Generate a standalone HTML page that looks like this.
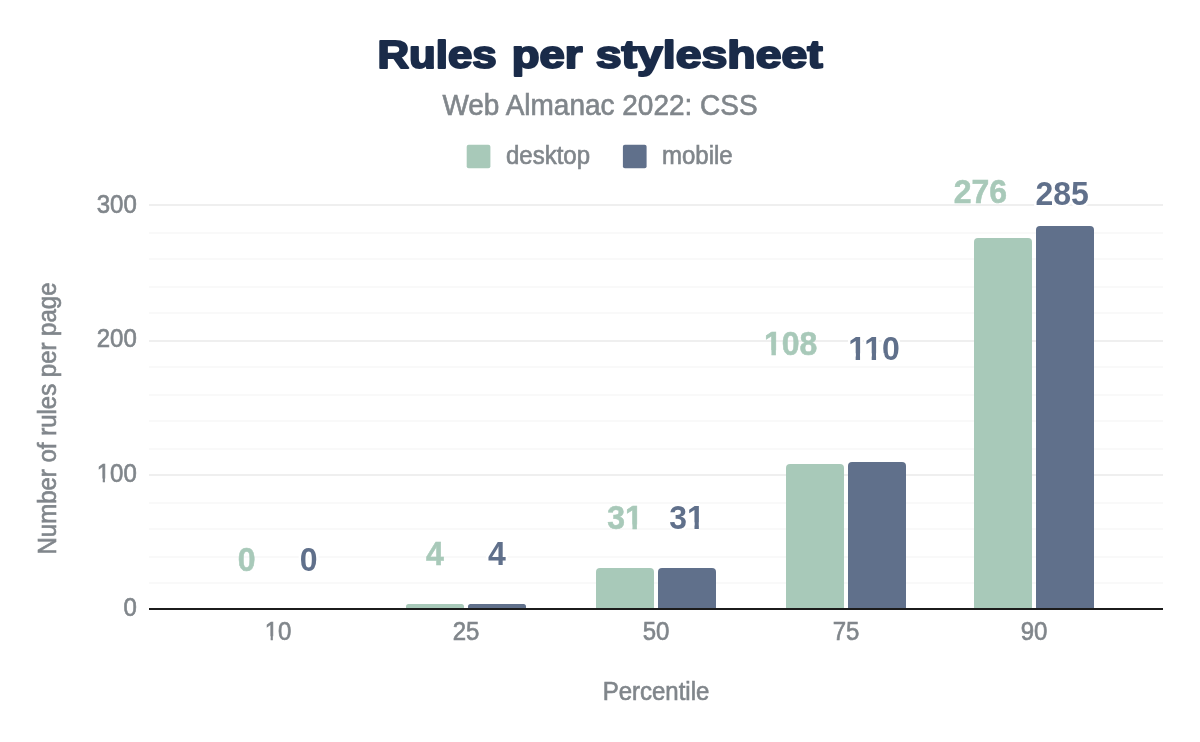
<!DOCTYPE html>
<html lang="en">
<head>
<meta charset="utf-8">
<title>Rules per stylesheet</title>
<style>
html,body{margin:0;padding:0;background:#fff;}
body{width:1200px;height:742px;overflow:hidden;}
svg{display:block;font-family:"Liberation Sans", Arial, sans-serif;}
.t{fill:#80868b;font-size:24px;stroke:#80868b;stroke-width:0.6px;}
.s{fill:#80868b;font-size:28px;stroke:#80868b;stroke-width:0.6px;}
.lab{font-size:32px;font-weight:bold;}
.g{stroke:#a8c9b9;stroke-width:0.5px;}
.halo{stroke:#fff;stroke-width:5px;paint-order:stroke fill;stroke-linejoin:round;}
.title{font-size:38px;font-weight:bold;fill:#1a2b49;stroke:#1a2b49;stroke-width:2px;stroke-linejoin:round;}
</style>
</head>
<body>
<svg width="1200" height="742" viewBox="0 0 1200 742">
<rect width="1200" height="742" fill="#ffffff"/>
<defs>
<clipPath id="c0"><path clip-rule="evenodd" d="M-60.0 -28.8H20.0V12.0H-60.0zM-39.71 -3.49H-34.01V2H-39.71zM-31.89 -3.49H-26.37V2H-31.89z"/></clipPath>
<clipPath id="c1"><path clip-rule="evenodd" d="M-33.3 -28.8H33.3V12.0H-33.3zM-13.02 -3.49H-7.31V2H-13.02zM-5.19 -3.49H0.33V2H-5.19z"/></clipPath>
<clipPath id="c2"><path clip-rule="evenodd" d="M-37.8 -38.4H37.8V16.0H-37.8zM0.52 -4.27H7.47V2H0.52zM11.86 -4.27H18.41V2H11.86z"/></clipPath>
<clipPath id="c3"><path clip-rule="evenodd" d="M-37.8 -38.4H37.8V16.0H-37.8zM-1.18 -6.47H7.47V4H-1.18zM11.86 -6.47H20.11V4H11.86z"/></clipPath>
<clipPath id="c4"><path clip-rule="evenodd" d="M-46.7 -38.4H46.7V16.0H-46.7zM-26.18 -4.27H-19.23V2H-26.18zM-14.84 -4.27H-8.29V2H-14.84z"/></clipPath>
<clipPath id="c5"><path clip-rule="evenodd" d="M-45.8 -38.4H45.8V16.0H-45.8zM-26.99 -6.47H-18.34V4H-26.99zM-13.95 -6.47H-2.32V4H-13.95zM2.07 -6.47H10.32V4H2.07z"/></clipPath>
</defs>
<rect x="149" y="232" width="1014" height="2" fill="#f9f9f9"/>
<rect x="149" y="258" width="1014" height="2" fill="#f9f9f9"/>
<rect x="149" y="286" width="1014" height="2" fill="#f9f9f9"/>
<rect x="149" y="312" width="1014" height="2" fill="#f9f9f9"/>
<rect x="149" y="366" width="1014" height="2" fill="#f9f9f9"/>
<rect x="149" y="394" width="1014" height="2" fill="#f9f9f9"/>
<rect x="149" y="420" width="1014" height="2" fill="#f9f9f9"/>
<rect x="149" y="448" width="1014" height="2" fill="#f9f9f9"/>
<rect x="149" y="502" width="1014" height="2" fill="#f9f9f9"/>
<rect x="149" y="528" width="1014" height="2" fill="#f9f9f9"/>
<rect x="149" y="556" width="1014" height="2" fill="#f9f9f9"/>
<rect x="149" y="582" width="1014" height="2" fill="#f9f9f9"/>
<rect x="149" y="204" width="1014" height="2" fill="#efefef"/>
<rect x="149" y="340" width="1014" height="2" fill="#efefef"/>
<rect x="149" y="474" width="1014" height="2" fill="#efefef"/>
<path d="M406 609V606.5a2.5 2.5 0 0 1 2.5 -2.5h53.0a2.5 2.5 0 0 1 2.5 2.5V609z" fill="#a8c9b9"/>
<path d="M468 609V606.5a2.5 2.5 0 0 1 2.5 -2.5h53.0a2.5 2.5 0 0 1 2.5 2.5V609z" fill="#60708b"/>
<path d="M596 609V572a4 4 0 0 1 4 -4h50a4 4 0 0 1 4 4V609z" fill="#a8c9b9"/>
<path d="M658 609V572a4 4 0 0 1 4 -4h50a4 4 0 0 1 4 4V609z" fill="#60708b"/>
<path d="M786 609V468a4 4 0 0 1 4 -4h50a4 4 0 0 1 4 4V609z" fill="#a8c9b9"/>
<path d="M848 609V466a4 4 0 0 1 4 -4h50a4 4 0 0 1 4 4V609z" fill="#60708b"/>
<path d="M974 609V242a4 4 0 0 1 4 -4h50a4 4 0 0 1 4 4V609z" fill="#a8c9b9"/>
<path d="M1036 609V230a4 4 0 0 1 4 -4h50a4 4 0 0 1 4 4V609z" fill="#60708b"/>
<rect x="149" y="608" width="1014" height="2" fill="#1c1c1c"/>
<text class="t" transform="translate(136.8 213.2) scale(1 1.04)" text-anchor="end">300</text>
<text class="t" transform="translate(136.8 347.2) scale(1 1.04)" text-anchor="end">200</text>
<text class="t" transform="translate(136.8 482.2) scale(1 1.04)" text-anchor="end" clip-path="url(#c0)">100</text>
<text class="t" transform="translate(136.8 616.2) scale(1 1.04)" text-anchor="end">0</text>
<text class="t" transform="translate(278 640) scale(1 1.04)" text-anchor="middle" clip-path="url(#c1)">10</text>
<text class="t" transform="translate(466 640) scale(1 1.04)" text-anchor="middle">25</text>
<text class="t" transform="translate(656 640) scale(1 1.04)" text-anchor="middle">50</text>
<text class="t" transform="translate(846 640) scale(1 1.04)" text-anchor="middle">75</text>
<text class="t" transform="translate(1034 640) scale(1 1.04)" text-anchor="middle">90</text>
<text class="t" transform="translate(656 700) scale(1 1.04)" text-anchor="middle">Percentile</text>
<text class="t" transform="translate(56.3 418.5) rotate(-90) scale(1 1.04)" text-anchor="middle">Number of rules per page</text>
<text class="lab g" transform="translate(246.7 570.6) scale(1 1.04)" text-anchor="middle" fill="#a8c9b9">0</text>
<text class="lab halo" transform="translate(308.7 570.6) scale(1 1.04)" text-anchor="middle" fill="#60708b">0</text>
<text class="lab g" transform="translate(435 564.7) scale(1 1.04)" text-anchor="middle" fill="#a8c9b9">4</text>
<text class="lab halo" transform="translate(497 564.7) scale(1 1.04)" text-anchor="middle" fill="#60708b">4</text>
<text class="lab g" transform="translate(625 529) scale(1 1.04)" text-anchor="middle" fill="#a8c9b9" clip-path="url(#c2)">31</text>
<text class="lab halo" transform="translate(687 529) scale(1 1.04)" text-anchor="middle" fill="#60708b" clip-path="url(#c3)">31</text>
<text class="lab g" transform="translate(790.7 354.7) scale(1 1.04)" text-anchor="middle" fill="#a8c9b9" clip-path="url(#c4)">108</text>
<text class="lab halo" transform="translate(874 360) scale(1 1.04)" text-anchor="middle" fill="#60708b" clip-path="url(#c5)">110</text>
<text class="lab g" transform="translate(980.4 202.6) scale(1 1.04)" text-anchor="middle" fill="#a8c9b9">276</text>
<text class="lab halo" transform="translate(1062.2 204.7) scale(1 1.04)" text-anchor="middle" fill="#60708b">285</text>
<rect x="466.7" y="144.7" width="23.7" height="23.6" rx="2" fill="#a8c9b9"/>
<text class="t" transform="translate(506 164) scale(1 1.04)" text-anchor="start">desktop</text>
<rect x="622.9" y="144.7" width="23.7" height="23.6" rx="2" fill="#60708b"/>
<text class="t" transform="translate(662 164) scale(1 1.04)" text-anchor="start">mobile</text>
<text class="s" transform="translate(600 114.8) scale(1 1.04)" text-anchor="middle">Web Almanac 2022: CSS</text>
<text class="title" y="68"><tspan x="377.4" textLength="119.3" lengthAdjust="spacingAndGlyphs">Rules</tspan> <tspan x="511.7" textLength="70.8" lengthAdjust="spacingAndGlyphs">per</tspan> <tspan x="595.8" textLength="227" lengthAdjust="spacingAndGlyphs">stylesheet</tspan></text>
</svg>
</body>
</html>
